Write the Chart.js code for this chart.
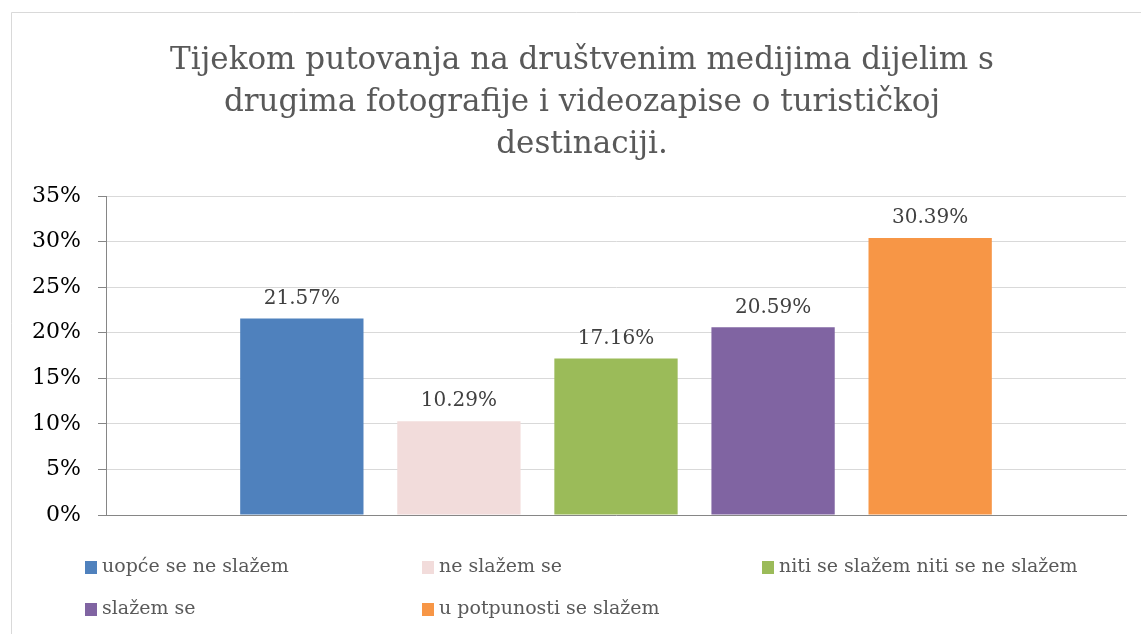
<!DOCTYPE html>
<html>
<head>
<meta charset="utf-8">
<script src="https://cdn.jsdelivr.net/npm/chart.js@4/dist/chart.umd.min.js"></script>
<style>
html,body{margin:0;padding:0;background:#fff;}
#wrap{position:relative;width:1141px;height:634px;}
</style>
</head>
<body>
<div id="wrap"><canvas id="c" width="1141" height="634"></canvas></div>
<script>
const titleLines = ["Tijekom putovanja na društvenim medijima dijelim s", "drugima fotografije i videozapise o turističkoj", "destinaciji."];
const categories = [""];
const seriesNames = ["uopće se ne slažem", "ne slažem se", "niti se slažem niti se ne slažem", "slažem se", "u potpunosti se slažem"];
const seriesValues = [21.57, 10.29, 17.16, 20.59, 30.39];
const seriesColors = ["#4F81BD", "#F2DCDB", "#9BBB59", "#8064A2", "#F79646"];
const yTicks = [0, 5, 10, 15, 20, 25, 30, 35];

const SERIF = "'DejaVu Serif', 'Liberation Serif', serif";

const frame = {
  id: 'frame',
  beforeDraw(chart) {
    const ctx = chart.ctx;
    ctx.save();
    ctx.fillStyle = '#fff';
    ctx.fillRect(0, 0, chart.width, chart.height);
    ctx.strokeStyle = '#d9d9d9';
    ctx.lineWidth = 1;
    ctx.beginPath();
    ctx.moveTo(11.5, chart.height);
    ctx.lineTo(11.5, 12.5);
    ctx.lineTo(chart.width, 12.5);
    ctx.stroke();
    ctx.restore();
  }
};

const chartTitle = {
  id: 'chartTitle',
  afterDraw(chart) {
    const ctx = chart.ctx;
    ctx.save();
    ctx.font = "31px " + SERIF;
    ctx.fillStyle = '#595959';
    ctx.textAlign = 'center';
    ctx.textBaseline = 'middle';
    titleLines.forEach((t, i) => ctx.fillText(t, 582, 61 + i * 42));
    ctx.restore();
  }
};

const valueLabels = {
  id: 'valueLabels',
  afterDatasetsDraw(chart) {
    const ctx = chart.ctx;
    ctx.save();
    ctx.font = "20px " + SERIF;
    ctx.fillStyle = '#404040';
    ctx.textAlign = 'center';
    ctx.textBaseline = 'bottom';
    chart.data.datasets.forEach((ds, i) => {
      const meta = chart.getDatasetMeta(i);
      meta.data.forEach((bar, j) => {
        ctx.fillText(ds.data[j].toFixed(2) + '%', bar.x, bar.y - 10);
      });
    });
    ctx.restore();
  }
};

const customLegend = {
  id: 'customLegend',
  afterDraw(chart) {
    const ctx = chart.ctx;
    ctx.save();
    ctx.font = "19px " + SERIF;
    ctx.textBaseline = 'middle';
    const cols = [85, 422, 762];
    const rows = [567, 609];
    chart.data.datasets.forEach((ds, i) => {
      const x = cols[i % 3];
      const y = rows[Math.floor(i / 3)];
      ctx.fillStyle = ds.backgroundColor;
      ctx.fillRect(x, y - 6, 12, 13);
      ctx.fillStyle = '#595959';
      ctx.fillText(ds.label, x + 17, y);
    });
    ctx.restore();
  }
};

new Chart(document.getElementById('c'), {
  type: 'bar',
  data: {
    labels: categories,
    datasets: seriesNames.map((n, i) => ({
      label: n,
      data: [seriesValues[i]],
      backgroundColor: seriesColors[i],
      categoryPercentage: 0.77,
      barPercentage: 0.785
    }))
  },
  options: {
    responsive: false,
    animation: false,
    layout: { padding: { top: 196, right: 15, bottom: 0, left: 0 } },
    plugins: {
      legend: { display: false },
      tooltip: { enabled: false },
      title: { display: false }
    },
    scales: {
      x: {
        grid: { display: false, drawTicks: false },
        border: { display: true, color: '#868686' },
        ticks: { display: false },
        afterFit(s) { s.height = 119; }
      },
      y: {
        min: 0, max: 35,
        afterBuildTicks(s) { s.ticks = yTicks.map(v => ({ value: v })); },
        ticks: {
          color: '#000',
          font: { family: SERIF, size: 22 },
          padding: 17,
          callback: v => v + '%'
        },
        grid: { color: '#d9d9d9', tickColor: '#868686', tickLength: 8 },
        border: { color: '#868686' },
        afterFit(s) { s.width = 106; }
      }
    }
  },
  plugins: [frame, chartTitle, valueLabels, customLegend]
});
</script>
</body>
</html>
